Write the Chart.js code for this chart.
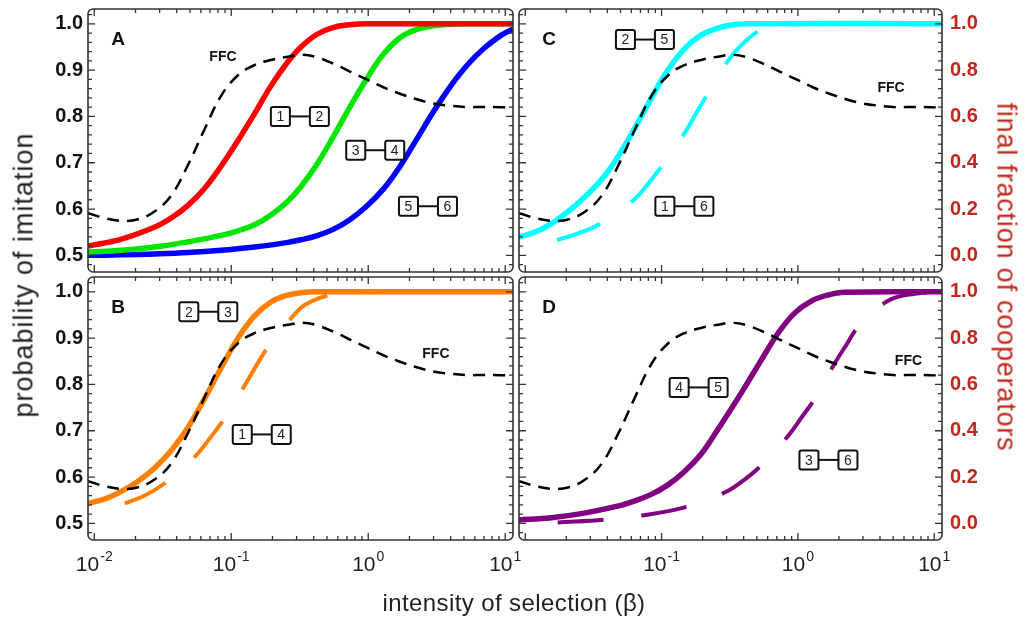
<!DOCTYPE html>
<html>
<head>
<meta charset="utf-8">
<script src="https://cdn.jsdelivr.net/npm/chart.js@4.4.0/dist/chart.umd.min.js"></script>
<style>
  body { margin: 0; background: #fff; width: 1027px; height: 619px; position: relative; overflow: hidden;
         font-family: "Liberation Sans", Arial, sans-serif; }
  canvas { position: absolute; left: 0; top: 0; }
  .title { position: absolute; white-space: nowrap; transform-origin: center center; }
</style>
</head>
<body>
<canvas id="panelA" width="1027" height="619"></canvas>
<canvas id="panelB" width="1027" height="619"></canvas>
<canvas id="panelC" width="1027" height="619"></canvas>
<canvas id="panelD" width="1027" height="619"></canvas>
<div class="title" id="yTitle" style="left:24px;top:275px;font-size:27px;letter-spacing:1px;color:#222;transform:translate(-50%,-50%) rotate(-90deg);">probability of imitation</div>
<div class="title" id="y2Title" style="left:1006px;top:277px;font-size:27px;letter-spacing:0.8px;color:#c0281e;transform:translate(-50%,-50%) rotate(90deg);">final fraction of cooperators</div>
<div class="title" id="xTitle" style="left:514px;top:603px;font-size:24px;letter-spacing:0.4px;color:#222;transform:translate(-50%,-50%);">intensity of selection (β)</div>
<script>
// intensity of selection (beta) and probability of imitation
const betaRed = [0.009, 0.0158, 0.0277, 0.0366, 0.0483, 0.064, 0.0845, 0.112, 0.148, 0.195, 0.259, 0.32, 0.42, 0.55, 0.73, 1.0, 11.4];
const link12  = [0.520, 0.535, 0.561, 0.581, 0.608, 0.645, 0.693, 0.748, 0.806, 0.866, 0.918, 0.949, 0.977, 0.992, 0.998, 1.0, 1.0];

const betaGreen = [0.009, 0.0158, 0.0277, 0.0483, 0.0845, 0.112, 0.148, 0.195, 0.259, 0.32, 0.419, 0.555, 0.734, 0.973, 1.288, 1.705, 2.26, 2.99, 5.2, 11.4];
const link34    = [0.507, 0.511, 0.518, 0.529, 0.543, 0.553, 0.566, 0.587, 0.617, 0.647, 0.695, 0.756, 0.820, 0.881, 0.934, 0.970, 0.988, 0.996, 1.0, 1.0];

const betaBlue = [0.009, 0.0158, 0.0277, 0.0483, 0.0845, 0.148, 0.259, 0.316, 0.419, 0.555, 0.734, 0.973, 1.288, 1.705, 2.26, 2.99, 3.96, 5.25, 6.94, 9.19, 11.4];
const link56   = [0.500, 0.501, 0.503, 0.506, 0.511, 0.518, 0.528, 0.533, 0.542, 0.556, 0.577, 0.606, 0.643, 0.692, 0.751, 0.810, 0.864, 0.910, 0.946, 0.974, 0.989];

const betaOrange = [0.009, 0.012, 0.0158, 0.0209, 0.0277, 0.0366, 0.0483, 0.064, 0.0845, 0.112, 0.148, 0.195, 0.259, 0.321, 0.42, 11.4];
const link23     = [0.543, 0.553, 0.569, 0.591, 0.620, 0.658, 0.707, 0.770, 0.836, 0.900, 0.948, 0.978, 0.993, 0.998, 1.0, 1.0];

const betaOrangeDash = [0.0167, 0.0234, 0.0336, 0.054, 0.0695, 0.0894, 0.125, 0.152, 0.185, 0.316, 0.396, 0.537, 0.8, 11.4];
const link14         = [0.543, 0.560, 0.589, 0.643, 0.683, 0.727, 0.797, 0.840, 0.880, 0.963, 0.981, 0.994, 0.999, 1.0];

const betaCyan = [0.00884, 0.0117, 0.0155, 0.0205, 0.0271, 0.0359, 0.0474, 0.0628, 0.0832, 0.11, 0.146, 0.193, 0.255, 0.317, 0.42, 11.6];
const link25   = [0.539, 0.550, 0.568, 0.594, 0.625, 0.662, 0.711, 0.772, 0.837, 0.898, 0.945, 0.975, 0.990, 0.997, 1.0, 1.0];

const betaCyanDash = [0.0171, 0.0242, 0.0349, 0.0611, 0.0785, 0.101, 0.146, 0.178, 0.218, 0.305, 0.404, 0.537, 0.8, 11.6];
const link16       = [0.533, 0.547, 0.567, 0.617, 0.652, 0.694, 0.762, 0.805, 0.849, 0.919, 0.960, 0.986, 0.998, 1.0];

const betaPurple = [0.00884, 0.0155, 0.0271, 0.0474, 0.0628, 0.0832, 0.11, 0.146, 0.193, 0.255, 0.305, 0.404, 0.537, 0.713, 0.945, 1.254, 1.66, 2.21, 11.6];
const link45     = [0.507, 0.512, 0.522, 0.537, 0.548, 0.562, 0.582, 0.611, 0.648, 0.700, 0.735, 0.792, 0.852, 0.910, 0.954, 0.980, 0.993, 0.999, 1.0];

const betaPurpleDash = [0.0173, 0.0379, 0.0723, 0.154, 0.293, 0.404, 0.537, 0.844, 1.059, 1.327, 1.84, 2.26, 2.77, 4.55, 7.2, 11.6];
const link36         = [0.502, 0.508, 0.517, 0.536, 0.567, 0.594, 0.625, 0.688, 0.728, 0.769, 0.843, 0.885, 0.924, 0.980, 0.996, 1.0];

// final fraction of cooperators (FFC), right axis
const betaFFC = [0.009, 0.012, 0.0158, 0.0209, 0.0277, 0.0366, 0.0483, 0.064, 0.0845, 0.112, 0.148, 0.195, 0.259, 0.33, 0.419, 0.555, 0.734, 0.973, 1.288, 1.705, 2.26, 2.99, 3.96, 5.25, 6.94, 9.19, 11.4];
const ffc     = [0.182, 0.160, 0.149, 0.156, 0.190, 0.260, 0.390, 0.546, 0.690, 0.778, 0.822, 0.844, 0.858, 0.866, 0.856, 0.828, 0.794, 0.760, 0.726, 0.698, 0.674, 0.656, 0.646, 0.640, 0.641, 0.640, 0.638];

// axis ticks
const yTickLabels  = ['0.5', '0.6', '0.7', '0.8', '0.9', '1.0'];
const y2TickLabels = ['0.0', '0.2', '0.4', '0.6', '0.8', '1.0'];
const xTickExps    = [-2, -1, 0, 1];

const W = 1027, H = 619;
const X_MIN = 0.009, X_MAX = 11.4;
const Y_MIN = 0.464, Y_MAX = 1.032;
const Y2_MIN = -0.072, Y2_MAX = 1.064;
const FONT = '"Liberation Sans", Arial, sans-serif';
const RED_AXIS = '#c0281e';

function pts(xs, ys) {
    return xs.map((b, i) => ({ x: b, y: ys[i] }));
}

function curve(xs, ys, color, dashed) {
    return {
        data: pts(xs, ys),
        borderColor: color,
        borderWidth: dashed ? 4 : 5.5,
        borderDash: dashed ? [46, 38] : [],
        yAxisID: 'y',
        order: dashed ? 2 : 1,
        clip: 0
    };
}

function ffcLine() {
    return {
        data: pts(betaFFC, ffc),
        borderColor: '#000',
        borderWidth: 2.5,
        borderDash: [12, 8],
        yAxisID: 'y2',
        order: 0,
        clip: 0
    };
}

// frame, inward ticks, tick labels and annotations
const decorPlugin = {
    id: 'panelDecor',
    afterDraw(chart, args, o) {
        const ctx = chart.ctx;
        const a = chart.chartArea;
        const xs = chart.scales.x, ys = chart.scales.y, ys2 = chart.scales.y2;
        ctx.save();

        // ticks on all four sides
        ctx.strokeStyle = '#333';
        ctx.lineWidth = 1.3;
        ctx.beginPath();
        for (let k = -3; k <= 1; k++) {
            for (let d = 1; d <= 9; d++) {
                const px = xs.getPixelForValue(d * Math.pow(10, k));
                if (px < a.left + 2 || px > a.right - 2) continue;
                const len = d === 1 ? 7 : 4;
                ctx.moveTo(px, a.bottom); ctx.lineTo(px, a.bottom - len);
                ctx.moveTo(px, a.top); ctx.lineTo(px, a.top + len);
            }
        }
        for (let i = 24; i <= 51; i++) {
            const py = ys.getPixelForValue(i * 0.02);
            if (py < a.top + 2 || py > a.bottom - 2) continue;
            const len = i % 5 === 0 ? 7 : 4;
            ctx.moveTo(a.left, py); ctx.lineTo(a.left + len, py);
            ctx.moveTo(a.right, py); ctx.lineTo(a.right - len, py);
        }
        ctx.stroke();

        // rounded frame
        ctx.lineWidth = 1.6;
        ctx.beginPath();
        ctx.roundRect(a.left, a.top, a.right - a.left, a.bottom - a.top, 5);
        ctx.stroke();

        // y tick labels
        ctx.textBaseline = 'middle';
        if (o.leftLabels) {
            ctx.font = 'bold 20px ' + FONT;
            ctx.fillStyle = '#111';
            ctx.textAlign = 'right';
            yTickLabels.forEach(t => ctx.fillText(t, a.left - 5, ys.getPixelForValue(parseFloat(t))));
        }
        if (o.rightLabels) {
            ctx.font = 'bold 20px ' + FONT;
            ctx.fillStyle = RED_AXIS;
            ctx.textAlign = 'left';
            y2TickLabels.forEach(t => ctx.fillText(t, a.right + 8, ys2.getPixelForValue(parseFloat(t))));
        }

        // x tick labels 10^n (the right-hand panel drops 10^-2, as in the figure)
        if (o.xLabels) {
            ctx.textBaseline = 'alphabetic';
            ctx.textAlign = 'left';
            ctx.fillStyle = '#222';
            xTickExps.forEach(e => {
                if (o.skipExp === e) return;
                const px = xs.getPixelForValue(Math.pow(10, e));
                ctx.font = '21px ' + FONT;
                const w1 = ctx.measureText('10').width;
                ctx.font = '14px ' + FONT;
                const w2 = ctx.measureText(String(e)).width;
                const x0 = px - (w1 + w2 + 1) / 2;
                const base = a.bottom + 31;
                ctx.font = '21px ' + FONT;
                ctx.fillText('10', x0, base);
                ctx.font = '14px ' + FONT;
                ctx.fillText(String(e), x0 + w1 + 1, base - 10);
            });
        }

        // panel letter
        ctx.fillStyle = '#111';
        ctx.font = 'bold 19px ' + FONT;
        ctx.textAlign = 'center';
        ctx.textBaseline = 'middle';
        ctx.fillText(o.letter, a.left + 30, a.top + 31);

        // FFC label
        ctx.font = 'bold 14px ' + FONT;
        ctx.fillText('FFC', xs.getPixelForValue(o.ffcAt[0]), ys.getPixelForValue(o.ffcAt[1]));

        // node-pair markers
        o.pairs.forEach(p => {
            const cx = xs.getPixelForValue(p[2]);
            const cy = ys.getPixelForValue(p[3]);
            ctx.strokeStyle = '#111';
            ctx.lineWidth = 2;
            ctx.beginPath();
            ctx.moveTo(cx - 10, cy); ctx.lineTo(cx + 10, cy);
            ctx.stroke();
            [[-19.5, p[0]], [19.5, p[1]]].forEach(([dx, label]) => {
                ctx.beginPath();
                ctx.roundRect(cx + dx - 9.5, cy - 9.5, 19, 19, 2);
                ctx.fillStyle = '#fff';
                ctx.fill();
                ctx.stroke();
                ctx.fillStyle = '#222';
                ctx.font = '14px ' + FONT;
                ctx.fillText(label, cx + dx, cy + 1);
            });
        });
        ctx.restore();
    }
};

function makePanel(id, area, datasets, decor) {
    return new Chart(document.getElementById(id), {
        type: 'line',
        data: { datasets: datasets },
        options: {
            responsive: false,
            animation: false,
            events: [],
            layout: { padding: { left: area.left, top: area.top, right: W - area.right, bottom: H - area.bottom } },
            elements: { point: { radius: 0 }, line: { tension: 0.4, fill: false } },
            plugins: { legend: { display: false }, tooltip: { enabled: false }, panelDecor: decor },
            scales: {
                x: { type: 'logarithmic', min: X_MIN, max: X_MAX, display: false },
                y: { type: 'linear', min: Y_MIN, max: Y_MAX, display: false },
                y2: { type: 'linear', position: 'right', min: Y2_MIN, max: Y2_MAX, display: false }
            }
        },
        plugins: [decorPlugin]
    });
}

makePanel('panelA', { left: 88, top: 9, right: 513, bottom: 272 }, [
    ffcLine(),
    curve(betaRed, link12, '#ff0000', false),
    curve(betaGreen, link34, '#00e600', false),
    curve(betaBlue, link56, '#0000ff', false)
], { letter: 'A', leftLabels: true, ffcAt: [0.087, 0.9275],
     pairs: [['1', '2', 0.317, 0.80], ['3', '4', 1.125, 0.727], ['5', '6', 2.73, 0.606]] });

makePanel('panelB', { left: 88, top: 277, right: 513, bottom: 540 }, [
    ffcLine(),
    curve(betaOrange, link23, '#ff8000', false),
    curve(betaOrangeDash, link14, '#ff8000', true)
], { letter: 'B', leftLabels: true, xLabels: true, ffcAt: [3.12, 0.866],
     pairs: [['2', '3', 0.068, 0.957], ['1', '4', 0.167, 0.692]] });

makePanel('panelC', { left: 519, top: 9, right: 942, bottom: 272 }, [
    ffcLine(),
    curve(betaCyan, link25, '#00ffff', false),
    curve(betaCyanDash, link16, '#00ffff', true)
], { letter: 'C', rightLabels: true, ffcAt: [4.82, 0.862],
     pairs: [['2', '5', 0.0755, 0.966], ['1', '6', 0.147, 0.606]] });

makePanel('panelD', { left: 519, top: 277, right: 942, bottom: 540 }, [
    ffcLine(),
    curve(betaPurple, link45, '#800080', false),
    curve(betaPurpleDash, link36, '#800080', true)
], { letter: 'D', rightLabels: true, xLabels: true, skipExp: -2, ffcAt: [6.47, 0.85],
     pairs: [['4', '5', 0.187, 0.7935], ['3', '6', 1.675, 0.637]] });
</script>
</body>
</html>
